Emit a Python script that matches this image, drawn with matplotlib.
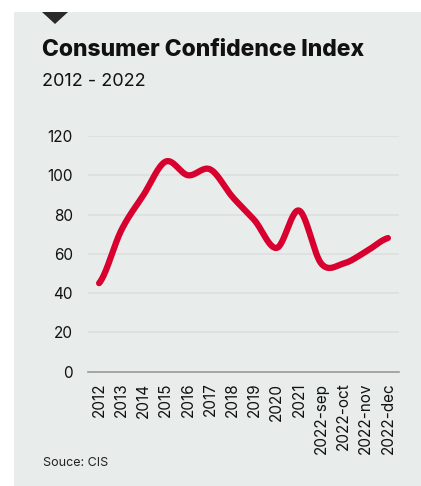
import numpy as np
import matplotlib
matplotlib.use("Agg")
import matplotlib.pyplot as plt
from matplotlib.patches import Rectangle, Polygon

plt.rcParams['font.family'] = ['Inter', 'DejaVu Sans']

# consumer confidence index, yearly then monthly for late 2022
periods = ['2012', '2013', '2014', '2015', '2016', '2017', '2018', '2019',
           '2020', '2021', '2022-sep', '2022-oct', '2022-nov', '2022-dec']
index_vals = [45, 72, 90, 107, 100, 103, 89, 77, 63, 82, 55, 55, 61, 68]
yticks = [0, 20, 40, 60, 80, 100, 120]

RED = '#d7002f'
PANEL = '#e8edeb'


def catmull_rom(x, y, n=30):
    # uniform Catmull-Rom through the points, only for a smooth line
    x = np.asarray(x, float)
    y = np.asarray(y, float)
    px = np.concatenate([[2 * x[0] - x[1]], x, [2 * x[-1] - x[-2]]])
    py = np.concatenate([[y[0]], y, [y[-1]]])
    xs, ys = [], []
    t = np.linspace(0, 1, n, endpoint=False)
    for i in range(1, len(px) - 2):
        for p, out in ((px, xs), (py, ys)):
            p0, p1, p2, p3 = p[i - 1], p[i], p[i + 1], p[i + 2]
            out.append(0.5 * (2 * p1 + (-p0 + p2) * t
                              + (2 * p0 - 5 * p1 + 4 * p2 - p3) * t**2
                              + (-p0 + 3 * p1 - 3 * p2 + p3) * t**3))
    xs.append([x[-1]])
    ys.append([y[-1]])
    return np.concatenate(xs), np.concatenate(ys)


fig = plt.figure(figsize=(4.21, 4.86), dpi=100)
fig.patch.set_facecolor('white')

# grey card and the little marker on top
fig.patches.append(Rectangle((14 / 421, 0), 1, 1 - 12 / 486, transform=fig.transFigure,
                             facecolor=PANEL, edgecolor='none', zorder=-2))
fig.patches.append(Polygon([(42 / 421, 1 - 12 / 486), (68 / 421, 1 - 12 / 486),
                            (55 / 421, 1 - 24 / 486)], closed=True,
                           transform=fig.transFigure, facecolor='#2a2a2a',
                           edgecolor='none', zorder=-1))

fig.text(42 / 421, 1 - 50 / 486, 'Consumer Confidence Index', fontsize=16.5,
         fontweight='heavy', va='center', ha='left', color='#111111')
fig.text(42 / 421, 1 - 82 / 486, '2012 - 2022', fontsize=13,
         va='center', ha='left', color='#111111')
fig.text(43 / 421, 1 - 463 / 486, 'Souce: CIS', fontsize=9,
         va='center', ha='left', color='#222222')

ax = fig.add_axes([88 / 421, 1 - 371.5 / 486, (399 - 88) / 421, (371.5 - 136) / 486])
ax.set_facecolor('none')

x = np.arange(len(periods))
cx, cy = catmull_rom(x, index_vals)
ax.plot(cx, cy, color=RED, lw=4.5, solid_capstyle='round', zorder=3)

ax.set_xlim(-0.5, len(periods) - 0.5)
ax.set_ylim(0, 120)
ax.set_yticks(yticks)
ax.set_yticklabels([str(v) for v in yticks])
ax.set_xticks(x)
ax.set_xticklabels(periods, rotation=90)

ax.grid(axis='y', color='#dcdfde', lw=1.2)
ax.set_axisbelow(True)
for s in ['top', 'right', 'left']:
    ax.spines[s].set_visible(False)
ax.spines['bottom'].set_color('#9a9a9a')
ax.spines['bottom'].set_linewidth(1.2)
ax.spines['bottom'].set_zorder(4)
ax.tick_params(axis='both', length=0, labelsize=11, colors='#111111')
ax.tick_params(axis='y', pad=11)
ax.tick_params(axis='x', pad=8)

fig.savefig('out.png', dpi=100)
